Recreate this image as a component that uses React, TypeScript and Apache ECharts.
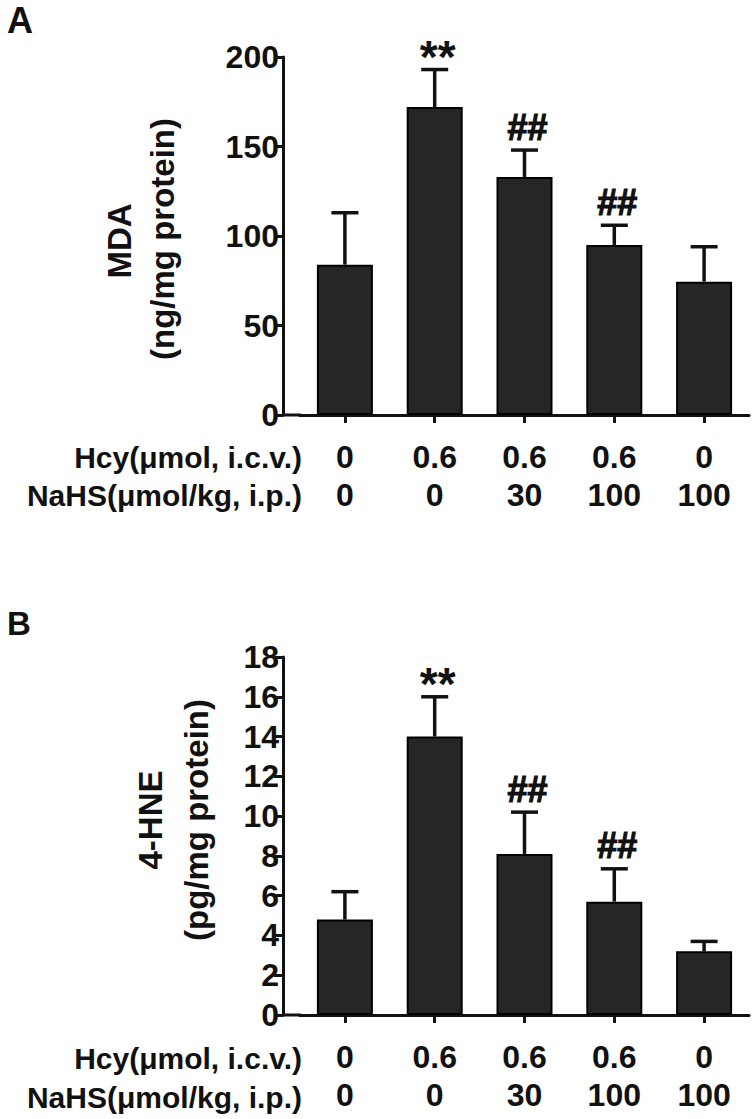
import React, { useEffect, useRef } from "react";
import * as echarts from "echarts";

const hcyDoses = ["0", "0.6", "0.6", "0.6", "0"];
const nahsDoses = ["0", "0", "30", "100", "100"];
const mdaMean = [84, 172, 133, 95, 74.5];
const mdaUpper = [113, 193, 148, 106, 94];
const hneMean = [4.8, 14.0, 8.1, 5.7, 3.2];
const hneUpper = [6.2, 16.0, 10.2, 7.35, 3.7];
const marks = ["", "**", "##", "##", ""];
const mdaTicks = { min: 0, max: 200, interval: 50 };
const hneTicks = { min: 0, max: 18, interval: 2 };

const FONT = "'Liberation Sans', Arial, sans-serif";
const INK = "#111";

export default function App() {
  const ref = useRef<HTMLDivElement>(null);
  useEffect(() => {
    if (!ref.current) return;
    const chart = echarts.init(ref.current, undefined, { renderer: "svg" });
    const categories = hcyDoses.map((h, i) => h + "\n" + nahsDoses[i]);

    const xAxisFor = (gridIndex: number) => ({
      type: "category",
      gridIndex,
      data: categories,
      axisLine: { show: true, lineStyle: { color: INK, width: 3 } },
      axisTick: { show: true, alignWithLabel: true, length: 8, lineStyle: { color: INK, width: 3 } },
      axisLabel: {
        color: INK,
        fontFamily: FONT,
        fontWeight: "bold",
        fontSize: 32,
        lineHeight: 38,
        margin: 23,
        interval: 0,
      },
    });
    const yAxisFor = (gridIndex: number, t: any) => ({
      type: "value",
      gridIndex,
      min: t.min,
      max: t.max,
      interval: t.interval,
      offset: 17,
      axisLine: { show: true, lineStyle: { color: INK, width: 3 } },
      axisTick: { show: true, length: 9, lineStyle: { color: INK, width: 3 } },
      axisLabel: { color: INK, fontFamily: FONT, fontWeight: "bold", fontSize: 32, margin: 4 },
      splitLine: { show: false },
    });

    const errSeries = (xi: number, mean: number[], upper: number[]) => ({
      type: "custom",
      xAxisIndex: xi,
      yAxisIndex: xi,
      z: 5,
      data: mean.map((m, i) => [i, m, upper[i]]),
      renderItem: (params: any, api: any) => {
        const i = api.value(0);
        const base = api.coord([i, api.value(1)]);
        const top = api.coord([i, api.value(2)]);
        const half = 13.5;
        const mark = marks[params.dataIndex];
        const children: any[] = [
          { type: "line", shape: { x1: base[0], y1: base[1], x2: top[0], y2: top[1] }, style: { stroke: INK, lineWidth: 3.5 } },
          { type: "line", shape: { x1: top[0] - half, y1: top[1], x2: top[0] + half, y2: top[1] }, style: { stroke: INK, lineWidth: 3.5 } },
        ];
        if (mark) {
          const star = mark.indexOf("*") >= 0;
          children.push({
            type: "text",
            x: top[0] + 3,
            y: top[1] - (star ? 13 : 23),
            style: {
              text: mark,
              fill: INK,
              stroke: INK,
              lineWidth: star ? 0 : 1.2,
              font: `bold ${star ? 46 : 36}px ${FONT}`,
              align: "center",
              verticalAlign: "middle",
            },
          });
        }
        return { type: "group", children };
      },
    });

    const barSeries = (xi: number, data: number[]) => ({
      type: "bar",
      xAxisIndex: xi,
      yAxisIndex: xi,
      data,
      barWidth: 56,
      itemStyle: { color: "#262626", borderColor: "#000", borderWidth: 2 },
      z: 3,
    });

    const txt = (text: string, x: number, y: number, size: number, opts: any = {}) => ({
      type: "text",
      x,
      y,
      rotation: opts.rotation || 0,
      style: {
        text,
        fill: INK,
        font: `bold ${size}px ${FONT}`,
        align: opts.align || "center",
        verticalAlign: "middle",
      },
    });

    chart.setOption({
      animation: false,
      backgroundColor: "#fff",
      grid: [
        { left: 300, width: 449, top: 57, height: 358 },
        { left: 300, width: 449, top: 657, height: 358 },
      ],
      xAxis: [xAxisFor(0), xAxisFor(1)],
      yAxis: [yAxisFor(0, mdaTicks), yAxisFor(1, hneTicks)],
      series: [
        barSeries(0, mdaMean),
        errSeries(0, mdaMean, mdaUpper),
        barSeries(1, hneMean),
        errSeries(1, hneMean, hneUpper),
      ],
      graphic: [
        { type: "line", shape: { x1: 282, y1: 415, x2: 301, y2: 415 }, style: { stroke: INK, lineWidth: 3 } },
        { type: "line", shape: { x1: 282, y1: 1015, x2: 301, y2: 1015 }, style: { stroke: INK, lineWidth: 3 } },
        txt("A", 20, 20, 36),
        txt("B", 19, 623, 33),
        txt("MDA", 119, 241, 33, { rotation: Math.PI / 2 }),
        txt("(ng/mg protein)", 162, 239, 33, { rotation: Math.PI / 2 }),
        txt("4-HNE", 150, 820, 33, { rotation: Math.PI / 2 }),
        txt("(pg/mg protein)", 196, 820, 33, { rotation: Math.PI / 2 }),
        txt("Hcy(μmol, i.c.v.)", 302, 457, 30, { align: "right" }),
        txt("NaHS(μmol/kg, i.p.)", 302, 495, 30, { align: "right" }),
        txt("Hcy(μmol, i.c.v.)", 302, 1058, 30, { align: "right" }),
        txt("NaHS(μmol/kg, i.p.)", 302, 1097, 30, { align: "right" }),
      ],
    });
    return () => chart.dispose();
  }, []);
  return (
    <div
      ref={ref}
      style={{ position: "absolute", left: 0, top: 0, width: 756, height: 1119, background: "#fff" }}
    />
  );
}
